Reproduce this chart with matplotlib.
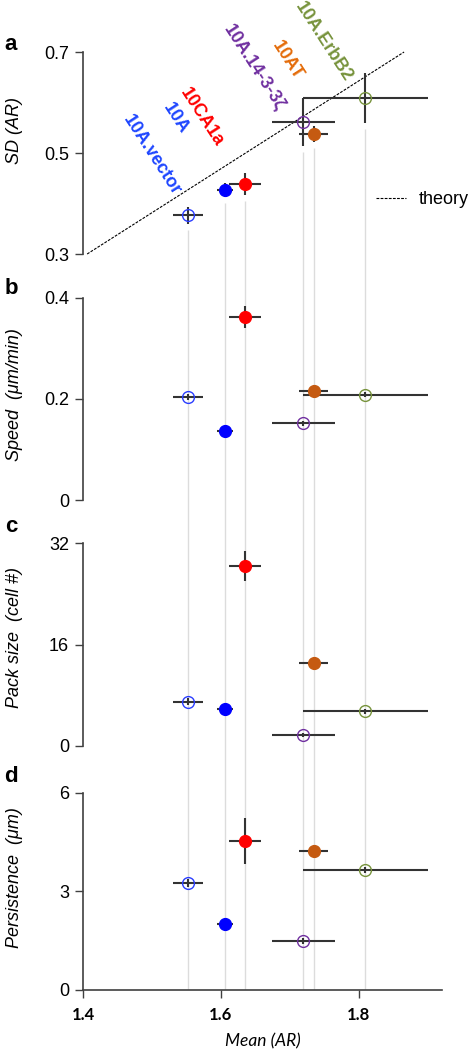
import numpy as np
import matplotlib
matplotlib.use("Agg")
import matplotlib.pyplot as plt
from matplotlib.lines import Line2D

plt.rcParams['font.family'] = ['Liberation Sans', 'DejaVu Sans']

# cell lines (left to right along Mean (AR))
lines = ['10A.vector', '10A', '10CA1a', '10A.14-3-3\u03b6', '10AT', '10A.ErbB2']
colors = ['#2A3DFF', '#0000FF', '#FF0000', '#7030A0', '#C55A11', '#77933C']
text_colors = ['#1E46FF', '#1E46FF', '#FF0000', '#7030A0', '#E46C0A', '#77933C']
filled = [False, True, True, False, True, False]

mean_ar = [1.552, 1.606, 1.635, 1.720, 1.735, 1.810]
mean_ar_err = [0.022, 0.012, 0.023, 0.046, 0.021, 0.090]

sd_ar = [0.377, 0.427, 0.439, 0.561, 0.538, 0.609]
sd_ar_err = [0.017, 0.014, 0.022, 0.047, 0.016, 0.050]

speed = [0.204, 0.137, 0.362, 0.152, 0.216, 0.208]
speed_err = [0.005, 0.005, 0.022, 0.005, 0.008, 0.005]

pack = [7.0, 5.9, 28.4, 1.7, 13.1, 5.5]
pack_err = [0.5, 0.4, 2.4, 0.3, 0.5, 0.4]

persistence = [3.25, 2.0, 4.53, 1.49, 4.22, 3.65]
persistence_err = [0.12, 0.08, 0.70, 0.08, 0.15, 0.08]

theory_x = [1.406, 1.866]
theory_y = [0.30, 0.70]

# label anchor points for the rotated names in panel a (data coords)
label_x = [1.500, 1.535, 1.572, 1.648, 1.696, 1.749]
label_y = [0.496, 0.569, 0.571, 0.668, 0.684, 0.720]

W, H = 471, 1050
fig = plt.figure(figsize=(W / 100, H / 100), dpi=100)

left = 83 / W
width = 359 / W
# (top px, bottom px, ylim, ticks, ylabel, ylabel centre px, letter)
panels = [
    (0, 268, (0.2723, 0.803), [0.3, 0.5, 0.7], 'SD (AR)', 130, 'a'),
    (268, 515, (-0.0297, 0.4594), [0, 0.2, 0.4], 'Speed  (\u03bcm/min)', 395, 'b'),
    (515, 763, (-2.69, 36.44), [0, 16, 32], 'Pack size  (cell #)', 637, 'c'),
    (763, 990, (0, 6.91), [0, 3, 6], 'Persistence  (\u03bcm)', 878, 'd'),
]
letter_y = [45, 289, 527, 776]
yvals = [sd_ar, speed, pack, persistence]
yerrs = [sd_ar_err, speed_err, pack_err, persistence_err]

axes = []
for k, (top, bot, ylim, ticks, ylab, lab_c, letter) in enumerate(panels):
    ax = fig.add_axes([left, 1 - bot / H, width, (bot - top) / H])
    axes.append(ax)
    ax.set_xlim(1.4, 1.4 + 359 / 689)
    ax.set_ylim(*ylim)
    ax.patch.set_alpha(0)
    for s in ['top', 'right']:
        ax.spines[s].set_visible(False)
    ax.spines['left'].set_bounds(ticks[0], ticks[-1])
    ax.spines['left'].set_color('#404040')
    ax.spines['left'].set_linewidth(1.2)
    ax.set_yticks(ticks)
    ax.set_yticklabels([('%g' % t) for t in ticks])
    ax.tick_params(axis='y', length=6, width=1, color='#404040', labelsize=13, pad=4)
    ax.set_ylabel(ylab, fontsize=13, fontstyle='italic')
    ax.yaxis.set_label_coords(-0.168, (bot - lab_c) / (bot - top))
    if letter != 'd':
        ax.spines['bottom'].set_visible(False)
        ax.set_xticks([])
    fig.text(11 / W, 1 - letter_y[k] / H, letter, fontsize=16, fontweight='bold',
             ha='center', va='center')

    y = yvals[k]
    ye = yerrs[k]
    for i in range(len(lines)):
        if k == 0:
            ax.vlines(mean_ar[i], ylim[0], y[i] - ye[i] - 0.012, color='#DCDCDC', lw=1, zorder=1)
        else:
            ax.axvline(mean_ar[i], color='#DCDCDC', lw=1, zorder=1)
        ax.errorbar(mean_ar[i], y[i], xerr=mean_ar_err[i], yerr=ye[i], fmt='none',
                    ecolor='#333333', elinewidth=1.5, capsize=0, zorder=2)
        ax.plot(mean_ar[i], y[i], 'o', ms=8.5,
                mfc=colors[i] if filled[i] else 'none',
                mec=colors[i], mew=1.0, zorder=3)

ax_a = axes[0]
ax_a.plot(theory_x, theory_y, color='black', lw=0.8, ls=(0, (2.5, 1.2)), zorder=1.5)
for i, name in enumerate(lines):
    ax_a.text(label_x[i], label_y[i], name, rotation=-57, rotation_mode='anchor',
              ha='center', va='center', color=text_colors[i], fontsize=13,
              fontweight='bold', clip_on=False)
handle = Line2D([], [], color='black', lw=0.8, ls=(0, (2.5, 1.2)))
ax_a.legend([handle], ['theory'], loc='center left', bbox_to_anchor=(0.815, 0.254),
            frameon=False, fontsize=13, handlelength=1.7, handletextpad=0.7,
            borderpad=0, borderaxespad=0)

ax_d = axes[3]
ax_d.spines['bottom'].set_color('#404040')
ax_d.spines['bottom'].set_linewidth(1.2)
ax_d.set_xticks([1.4, 1.6, 1.8])
ax_d.set_xticklabels(['1.4', '1.6', '1.8'], family=['Lato', 'DejaVu Sans'],
                     fontweight='bold')
ax_d.tick_params(axis='x', length=6, width=1, color='#404040', labelsize=12, pad=6)
ax_d.set_xlabel('Mean (AR)', fontsize=12.5, fontstyle='italic',
                family=['Lato', 'DejaVu Sans'], labelpad=8)

fig.savefig('out.png', dpi=100)
